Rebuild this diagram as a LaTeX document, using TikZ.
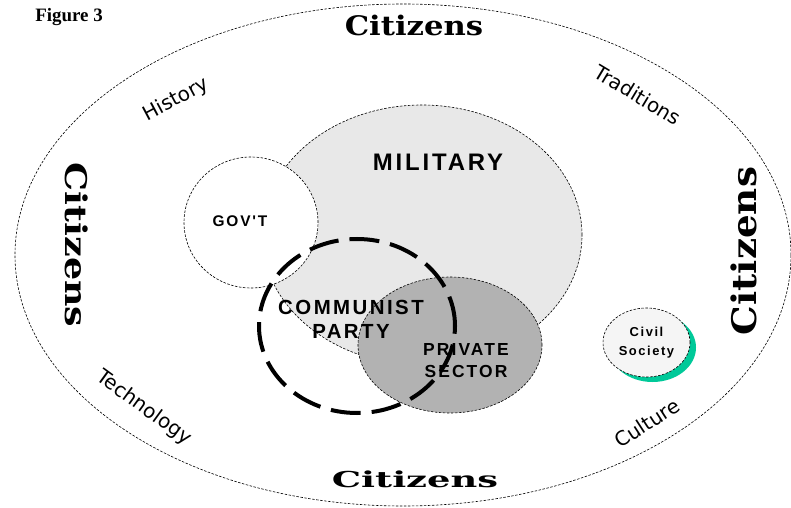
\documentclass[tikz,border=0pt]{standalone}
\usepackage{fontspec}
\setmainfont{Liberation Serif}
\newfontfamily\citizensfont{DejaVu Serif}
\newfontfamily\forcefont{DejaVu Sans}
\newfontfamily\blockfont[LetterSpace=12]{Liberation Sans}
\usepackage{tikz}
\usetikzlibrary{shapes}

\begin{document}
\begin{tikzpicture}[x=1bp,y=-1bp,line join=bevel,
    ring/.style={ellipse,draw,inner sep=0pt,dash pattern=on 2.5bp off 1.5bp},
    citizenslabel/.style={font=\citizensfont\bfseries\fontsize{#1}{#1}\selectfont,inner sep=0pt,anchor=base},
    forcelabel/.style={font=\forcefont\fontsize{20}{20}\selectfont,inner sep=0pt},
    blocklabel/.style 2 args={font=\blockfont\bfseries\fontsize{#1}{#2}\selectfont,inner sep=0pt,align=center}]
  \pgfsetlinewidth{.6bp}
  \useasboundingbox (0,0) rectangle (791,508);
%%
\pgfsetcolor{black}
  % Node: figure
  \node[anchor=base west,inner sep=0pt,font=\bfseries\fontsize{19}{19}\selectfont] (figure) at (35,22) {Figure 3};
  % Node: society
  \node[ring,minimum width=776bp,minimum height=502bp] (society) at (403,255) {};
  % Citizens, round the ring
  \node[citizenslabel=27,xscale=1.14] (citizenstop) at (414,36) {Citizens};
  \node[citizenslabel=22,xscale=1.68] (citizensbottom) at (415,487) {Citizens};
  \node[citizenslabel=30,rotate=-90,xscale=1.22] (citizensleft) at (65,245) {Citizens};
  \node[citizenslabel=34,rotate=90,xscale=1.1] (citizensright) at (756,251) {Citizens};
  % Forces
  \node[forcelabel,rotate=28] (history) at (176,100) {History};
  \node[forcelabel,rotate=-31] (traditions) at (638,95) {Traditions};
  \node[forcelabel,rotate=-36] (technology) at (144,408) {Technology};
  \node[forcelabel,rotate=33] (culture) at (647,423) {Culture};
  % Node: military
\begin{scope}
  \definecolor{fillcol}{rgb}{0.91,0.91,0.91};
  \node[ring,fill=fillcol,minimum width=320bp,minimum height=260bp] (military) at (422,235) {};
\end{scope}
  % Node: gov
  \node[ring,fill=white,minimum width=134bp,minimum height=131bp] (gov) at (251,222.5) {};
  % Node: private
\begin{scope}
  \definecolor{fillcol}{rgb}{0.70,0.70,0.70};
  \node[ring,fill=fillcol,minimum width=184bp,minimum height=136bp] (private) at (450,345) {};
\end{scope}
  % Labels
  \node[blocklabel={24}{24},anchor=base] (militarylabel) at (438,171) {MILITARY};
  \node[blocklabel={15.5}{15.5},anchor=base] (govlabel) at (240,227) {GOV'T};
  \node[blocklabel={20.5}{24}] (partylabel) at (351,319) {COMMUNIST\\PARTY};
  \node[blocklabel={17.5}{22}] (privatelabel) at (466,361) {PRIVATE\\SECTOR};
  % Node: party
  \node[ellipse,draw,inner sep=0pt,line width=4bp,dash pattern=on 30bp off 11bp,
        minimum width=196bp,minimum height=174bp] (party) at (357,326) {};
  % Node: civil
\begin{scope}
  \definecolor{shadowcol}{rgb}{0.0,0.79,0.60};
  \definecolor{fillcol}{rgb}{0.96,0.96,0.96};
  \node[ellipse,fill=shadowcol,inner sep=0pt,minimum width=87bp,minimum height=69bp] (civilshadow) at (652.5,347.5) {};
  \node[ring,fill=fillcol,minimum width=87bp,minimum height=69bp,blocklabel={13}{19}] (civil) at (646.5,342.5) {Civil\\Society};
\end{scope}
%
\end{tikzpicture}
\end{document}
